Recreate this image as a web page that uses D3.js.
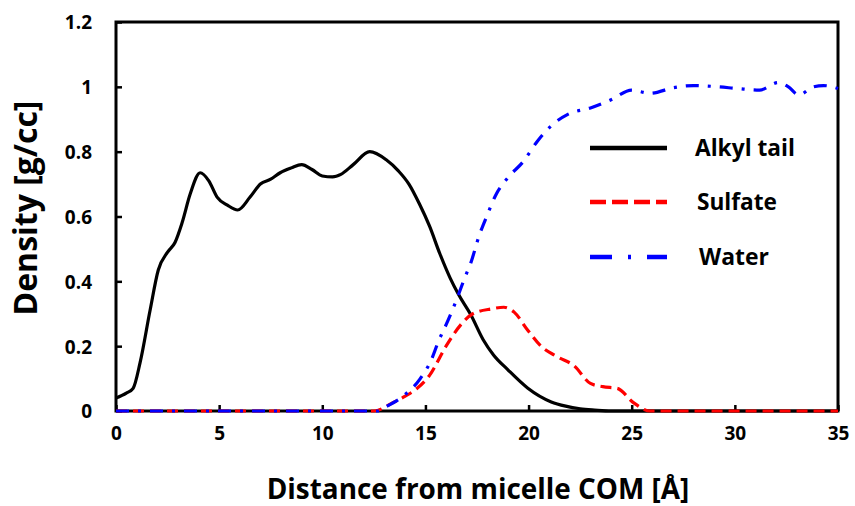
<!DOCTYPE html>
<html><head><meta charset="utf-8">
<script src="https://cdn.jsdelivr.net/npm/d3@7"></script>
<style>
body{margin:0;background:#fff;}
text{font-family:"Open Sans",sans-serif;font-weight:bold;fill:#000;}
</style></head>
<body><svg id="chart" width="855" height="506"></svg>
<script>
const xTicks = [0,5,10,15,20,25,30,35];
const yTicks = [0,0.2,0.4,0.6,0.8,1,1.2];
const yTickLabels = ["0","0.2","0.4","0.6","0.8","1","1.2"];

const alkylX = [0,0.5,0.83,1.17,1.65,2.05,2.5,2.86,3.2,3.6,4.08,4.5,4.9,5.4,5.9,6.5,7.0,7.5,7.96,8.5,9.0,9.5,10.0,10.5,10.9,11.5,12.3,13.1,13.7,14.2,14.7,15.2,15.7,16.2,16.6,17.2,17.8,18.3,19.0,19.95,21.1,21.8,22.5,23.2,24,25,30,35];
const alkylY = [0.04,0.055,0.07,0.15,0.31,0.435,0.49,0.52,0.58,0.67,0.735,0.71,0.66,0.635,0.62,0.66,0.70,0.715,0.735,0.75,0.76,0.745,0.725,0.722,0.73,0.76,0.80,0.775,0.74,0.70,0.64,0.57,0.485,0.41,0.36,0.297,0.22,0.173,0.127,0.071,0.028,0.015,0.007,0.003,0,0,0,0];

const sulfateX = [0,12.5,13.4,14.0,14.6,15.2,16.0,16.7,17.3,18.2,18.8,19.3,19.95,20.6,21.4,22.2,23.0,23.6,24.3,25.1,25.9,35];
const sulfateY = [0,0,0.025,0.045,0.07,0.11,0.20,0.265,0.30,0.315,0.32,0.305,0.25,0.20,0.167,0.14,0.085,0.075,0.07,0.025,0,0];

const waterX = [0,12.7,13.0,14.0,14.75,15.3,15.6,16.1,16.55,16.9,17.2,17.6,18.0,18.4,19.0,19.75,20.4,21.1,21.9,23.0,24.0,25.0,25.9,27,28,29.2,30.1,31.2,32.1,32.6,33.1,33.8,34.3,35];
const waterY = [0,0,0.01,0.05,0.10,0.16,0.21,0.28,0.35,0.41,0.457,0.54,0.605,0.665,0.72,0.77,0.83,0.88,0.915,0.935,0.96,0.99,0.98,0.997,1.004,1.0,0.995,0.99,1.013,1.0,0.975,1.0,1.004,0.995];

const seriesNames = ["Alkyl tail","Sulfate","Water"];
const seriesColors = ["#000000","#ff0000","#0000ff"];

const svg = d3.select("#chart");
const L = 116, R = 838, T = 22, B = 411;
const x = d3.scaleLinear().domain([0,35]).range([L,R]);
const y = d3.scaleLinear().domain([0,1.2]).range([B,T]);

function fit(sel, w){
  sel.attr("font-size",100);
  const len = sel.node().getComputedTextLength();
  sel.attr("font-size", 100*w/len);
  return sel;
}

// frame
svg.append("rect").attr("x",L).attr("y",T).attr("width",R-L).attr("height",B-T)
  .attr("fill","none").attr("stroke","#000").attr("stroke-width",3);

// axes (ticks inside)
const xAxis = d3.axisBottom(x).tickValues(xTicks).tickSizeInner(-6).tickSizeOuter(0).tickPadding(29);
const gx = svg.append("g").attr("transform",`translate(0,${B})`).call(xAxis);
gx.select(".domain").remove();
gx.selectAll("line").attr("stroke","#000").attr("stroke-width",2.5);
gx.selectAll("text").attr("font-size",19).attr("font-family","Open Sans, sans-serif").attr("font-weight","bold").attr("dy",0);

const yAxis = d3.axisLeft(y).tickValues(yTicks).tickFormat((d,i)=>yTickLabels[i]).tickSizeInner(-6).tickSizeOuter(0).tickPadding(24);
const gy = svg.append("g").attr("transform",`translate(${L},0)`).call(yAxis);
gy.select(".domain").remove();
gy.selectAll("line").attr("stroke","#000").attr("stroke-width",2.5);
gy.selectAll("text").attr("font-size",19).attr("font-family","Open Sans, sans-serif").attr("font-weight","bold").attr("dy","0.36em");

const line = d3.line().x(d=>x(d[0])).y(d=>y(d[1])).curve(d3.curveMonotoneX);
const dashes = [null, "11,6", "13,9,3,9"];
const data = [d3.zip(alkylX,alkylY), d3.zip(sulfateX,sulfateY), d3.zip(waterX,waterY)];
data.forEach((d,i)=>{
  svg.append("path").datum(d).attr("d",line).attr("fill","none")
    .attr("stroke",seriesColors[i]).attr("stroke-width",3.2)
    .attr("stroke-dasharray",dashes[i]);
});

// legend
const legY = [148,202,257];
const legTextX = [695,697,699];
const legTextW = [100,80,70];
const legDash = [null,"16,6","22,16,3,16"];
seriesNames.forEach((n,i)=>{
  svg.append("line").attr("x1",590).attr("x2",667).attr("y1",legY[i]).attr("y2",legY[i])
    .attr("stroke",seriesColors[i]).attr("stroke-width",4.5).attr("stroke-dasharray",legDash[i]);
  const t = svg.append("text").attr("x",legTextX[i]).attr("y",legY[i]).attr("dy","0.36em").text(n);
  fit(t, legTextW[i]);
});

// axis titles
const xt = svg.append("text").attr("x",478).attr("y",499).attr("text-anchor","middle")
  .text("Distance from micelle COM [Å]");
fit(xt, 423);
const yt = svg.append("text").attr("transform","translate(37,208) rotate(-90)").attr("text-anchor","middle")
  .text("Density [g/cc]");
fit(yt, 215);
</script></body></html>
